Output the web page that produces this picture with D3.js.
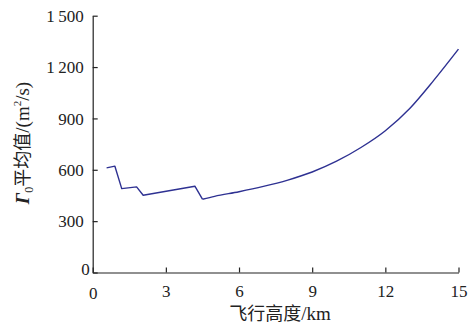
<!DOCTYPE html>
<html>
<head>
<meta charset="utf-8">
<script src="https://cdn.jsdelivr.net/npm/d3@7"></script>
<style>
body{margin:0;background:#fff;}
svg text{font-family:"Liberation Serif","Times New Roman",serif;fill:#222;}
.cjk{font-family:"Noto Sans CJK SC",sans-serif;}
</style>
</head>
<body>
<svg width="470" height="327"></svg>
<script>
// altitude (km) and mean Gamma0 (m^2/s)
// first part has jumps (straight segments), from 4.5 km on the curve is smooth
var altitude = [0.57,0.91,1.19,1.8,2.07,4.19,4.5,5,6,7,8,9,10,11,12,13,14,15];
var gamma0   = [611,621,490,500,451,504,428,445,472,503,540,587,650,730,828,958,1125,1305];
var jumpEnd = 6; // index where smooth part starts
var xTicks = [0,3,6,9,12,15];
var yTicks = [0,300,600,900,1200,1500];

var svg = d3.select("svg");
var x = d3.scaleLinear().domain([0,15]).range([92.7,458.5]);
var y = d3.scaleLinear().domain([0,1500]).range([272.5,15.7]);

function fmt(d){ return d>=1000 ? Math.floor(d/1000)+"\u2009"+d3.format("03d")(d%1000) : d; }

var gx = svg.append("g").attr("transform","translate(0,"+y(0)+")")
	.call(d3.axisBottom(x).tickValues(xTicks).tickSizeInner(-5).tickSizeOuter(0).tickPadding(9));
var gy = svg.append("g").attr("transform","translate("+x(0)+",0)")
	.call(d3.axisLeft(y).tickValues(yTicks).tickSizeInner(-5).tickSizeOuter(0).tickPadding(9).tickFormat(fmt));
[gx,gy].forEach(function(g){
	g.select(".domain").attr("stroke","#222").attr("stroke-width",1.2);
	g.selectAll(".tick line").attr("stroke","#222").attr("stroke-width",1.2);
	g.selectAll(".tick text").attr("font-size",17).attr("font-family","Liberation Serif").attr("fill","#222");
});
gx.selectAll(".tick text").attr("dy","0.9em");
gy.selectAll(".tick text").attr("dy","0.33em");
gy.selectAll(".tick").filter(function(d){return d===0;}).select("text").attr("dy","0.1em").attr("x",-3);
gx.selectAll(".tick").filter(function(d){return d===0;}).select("text").attr("dy","1.05em");

var pts = altitude.map(function(a,k){return [a,gamma0[k]];});
var line = d3.line().x(function(d){return x(d[0]);}).y(function(d){return y(d[1]);});
svg.append("path").datum(pts.slice(0,jumpEnd+1)).attr("d",line)
	.attr("fill","none").attr("stroke","#2e3192").attr("stroke-width",1.4).attr("stroke-linejoin","round");
svg.append("path").datum(pts.slice(jumpEnd)).attr("d",line.curve(d3.curveMonotoneX))
	.attr("fill","none").attr("stroke","#2e3192").attr("stroke-width",1.4);

// axis titles
svg.append("text").attr("x",280).attr("y",320).attr("text-anchor","middle").attr("font-size",19)
	.html('<tspan class="cjk" font-size="18">飞行高度</tspan>/km');

var yl = svg.append("text").attr("transform","translate(29,143) rotate(-90)").attr("text-anchor","middle").attr("font-size",19);
yl.append("tspan").attr("font-style","italic").attr("font-weight","bold").text("Γ");
yl.append("tspan").attr("font-size",12).attr("dy",4).text("0");
yl.append("tspan").attr("class","cjk").attr("font-size",18).attr("dy",-4).text("平均值");
yl.append("tspan").text("/(m");
yl.append("tspan").attr("font-size",11).attr("dy",-8).text("2");
yl.append("tspan").attr("dy",8).text("/s)");
</script>
</body>
</html>
